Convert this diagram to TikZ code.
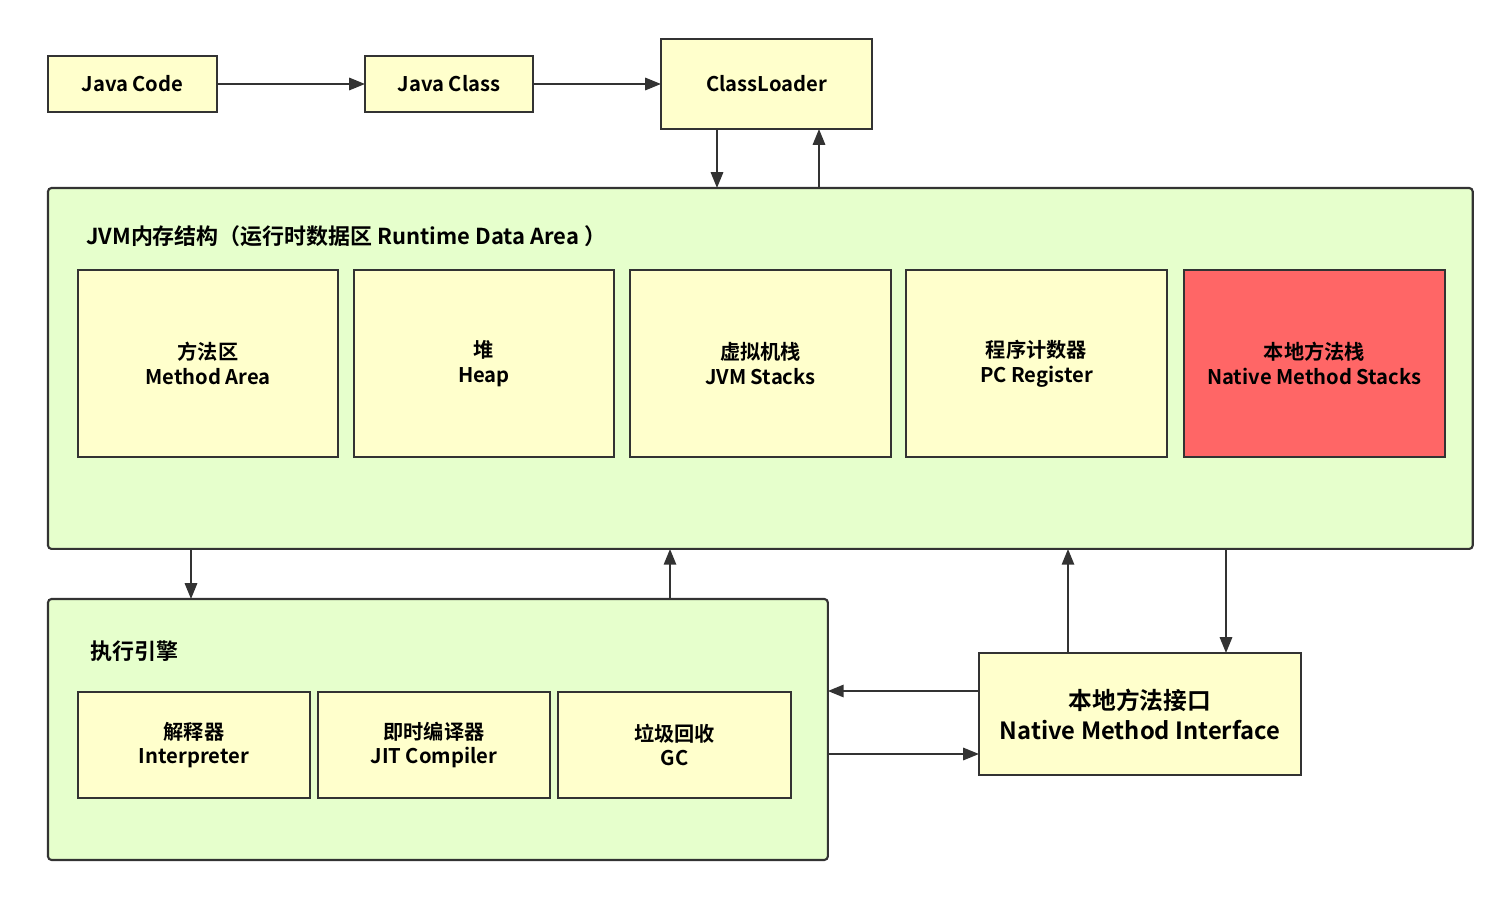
\documentclass[tikz,border=0pt]{standalone}
\usepackage{fontspec}
\setmainfont{Noto Sans CJK SC}[BoldFont={Noto Sans CJK SC Bold}]
\usetikzlibrary{positioning,arrows.meta}
\definecolor{boxyellow}{HTML}{FFFFCC}
\definecolor{boxgreen}{HTML}{E6FFCC}
\definecolor{boxred}{HTML}{FF6666}
\definecolor{edge}{HTML}{333333}
\tikzset{
  blk/.style={draw=edge, line width=1.2pt, fill=boxyellow, anchor=north west,
    inner sep=0pt, outer sep=0pt, align=center, font=\fontsize{11.5}{14}\selectfont\bfseries},
  area/.style={draw=edge, line width=1.2pt, fill=boxgreen, rounded corners=2pt,
    anchor=north west, inner sep=0pt, outer sep=0pt},
  arr/.style={draw=edge, line width=1.2pt, -{Triangle[length=9pt,width=7pt]}},
  ttl/.style={anchor=west, font=\fontsize{12.5}{15}\selectfont\bfseries}
}
\begin{document}
\begin{tikzpicture}[x=0.02cm,y=-0.02cm]
\useasboundingbox (0,0) rectangle (1512,900);
% top row
\node[blk, minimum width=3.38cm, minimum height=1.12cm] (code) at (48,56) {Java Code};
\node[blk, minimum width=3.36cm, minimum height=1.12cm] (class) at (365,56) {Java Class};
\node[blk, minimum width=4.22cm, minimum height=1.80cm] (loader) at (661,39) {ClassLoader};
% runtime data area
\node[area, minimum width=28.50cm, minimum height=7.22cm] (jvm) at (48,188) {};
\node[ttl] (jvmt) at (80,236) {JVM内存结构（运行时数据区 Runtime Data Area ）};
\node[blk, minimum width=5.20cm, minimum height=3.74cm] (method) at (78,270) {方法区\\Method Area};
\node[blk, minimum width=5.20cm, minimum height=3.74cm] (heap) at (354,270) {堆\\Heap};
\node[blk, minimum width=5.22cm, minimum height=3.74cm] (stacks) at (630,270) {虚拟机栈\\JVM Stacks};
\node[blk, minimum width=5.22cm, minimum height=3.74cm] (pc) at (906,270) {程序计数器\\PC Register};
\node[blk, fill=boxred, minimum width=5.22cm, minimum height=3.74cm] (native) at (1184,270) {本地方法栈\\Native Method Stacks};
% execution engine
\node[area, minimum width=15.60cm, minimum height=5.22cm] (exec) at (48,599) {};
\node[ttl] (exect) at (84,651) {执行引擎};
\node[blk, minimum width=4.64cm, minimum height=2.12cm] (interp) at (78,692) {解释器\\Interpreter};
\node[blk, minimum width=4.64cm, minimum height=2.12cm] (jit) at (318,692) {即时编译器\\JIT Compiler};
\node[blk, minimum width=4.66cm, minimum height=2.12cm] (gc) at (558,692) {垃圾回收\\GC};
% native interface
\node[blk, font=\fontsize{13.5}{17}\selectfont\bfseries, minimum width=6.44cm, minimum height=2.44cm] (nmi) at (979,653) {本地方法接口\\Native Method Interface};
% connectors
\draw[arr] (code) -- (class);
\draw[arr] (class.east) -- (class.east -| loader.west);
\draw[arr] (loader.south -| 717,0) -- (jvm.north -| 717,0);
\draw[arr] (jvm.north -| 819,0) -- (loader.south -| 819,0);
\draw[arr] (jvm.south -| 191,0) -- (exec.north -| 191,0);
\draw[arr] (exec.north -| 670,0) -- (jvm.south -| 670,0);
\draw[arr] (nmi.north -| 1068,0) -- (jvm.south -| 1068,0);
\draw[arr] (jvm.south -| 1226,0) -- (nmi.north -| 1226,0);
\draw[arr] (nmi.west |- 0,691) -- (exec.east |- 0,691);
\draw[arr] (exec.east |- 0,754) -- (nmi.west |- 0,754);
\end{tikzpicture}
\end{document}
